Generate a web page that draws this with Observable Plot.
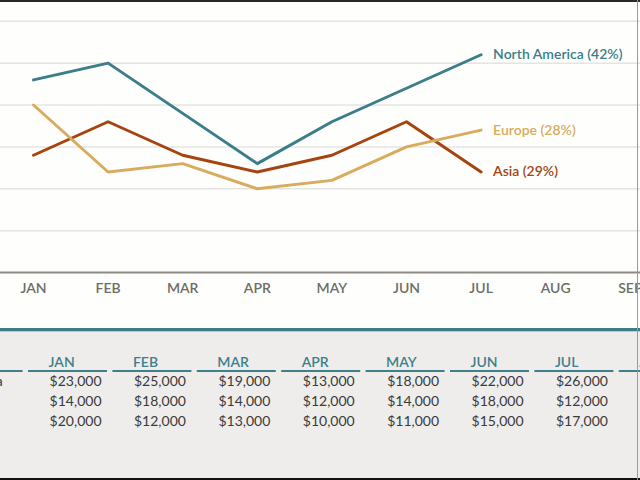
<!DOCTYPE html>
<html>
<head>
<meta charset="utf-8">
<script src="https://cdn.jsdelivr.net/npm/d3@7"></script>
<script src="https://cdn.jsdelivr.net/npm/@observablehq/plot@0.6"></script>
<style>
  html, body { margin: 0; padding: 0; background: #ffffff; }
  #frame { position: relative; width: 640px; height: 480px; overflow: hidden; background: #fefefd; font-family: Lato, sans-serif; }
  #chart { position: absolute; left: 0; top: 0; }
  #table { position: absolute; left: 0; top: 328px; width: 640px; height: 152px; background: #eeedec; border-top: 3px solid #3e7c86; box-shadow: inset 0 1px 0 #a8d0d8; box-sizing: border-box; }
  #topline { position: absolute; left: 0; top: 0; width: 640px; height: 2px; background: #2a2a2a; }
  #bottomline { position: absolute; left: 0; top: 478px; width: 640px; height: 2px; background: #111; }
  #rightline { position: absolute; left: 637px; top: 0; width: 1px; height: 480px; background: #9a9a9a; }
</style>
</head>
<body>
<div id="frame">
  <div id="chart"></div>
  <div id="table"></div>
  <div id="topline"></div>
  <div id="bottomline"></div>
  <div id="rightline"></div>
</div>
<script>
// ---- data ----
const months = ["JAN", "FEB", "MAR", "APR", "MAY", "JUN", "JUL", "AUG", "SEP"];
const regions = ["North America", "Asia", "Europe"];
const shares = ["42%", "29%", "28%"];
const northAmerica = [23000, 25000, 19000, 13000, 18000, 22000, 26000];
const asia = [14000, 18000, 14000, 12000, 14000, 18000, 12000];
const europe = [20000, 12000, 13000, 10000, 11000, 15000, 17000];
const colors = ["#3b7d88", "#a5440f", "#d9ab5d"];
const tableColumns = ["JAN", "FEB", "MAR", "APR", "MAY", "JUN", "JUL", "AUG"];

const series = [northAmerica, asia, europe];
const rows = [];
series.forEach((vals, k) => vals.forEach((v, i) => rows.push({region: regions[k], share: shares[k], i, value: v})));
const lastRows = series.map((vals, k) => ({region: regions[k], share: shares[k], i: vals.length - 1, value: vals[vals.length - 1]}));

const font = "Lato, sans-serif";

const chart = Plot.plot({
  width: 640, height: 328,
  marginTop: 10, marginBottom: 56, marginLeft: 0, marginRight: 0,
  style: {fontFamily: font, background: "transparent"},
  x: {type: "linear", domain: [-33 / 74.6, 607 / 74.6], axis: null},
  y: {domain: [0, 262 / 8.375 * 1000], axis: null},
  color: {domain: regions, range: colors},
  marks: [
    Plot.ruleY(d3.range(5000, 30001, 5000), {stroke: "#e4e4e2", strokeWidth: 1.5}),
    Plot.ruleY([0], {stroke: "#8b8b83", strokeWidth: 2}),
    Plot.axisX({ticks: d3.range(months.length), tickFormat: i => months[i], tickSize: 0, tickPadding: 11, fontSize: 14, fontWeight: 600, fill: "#6d6d66", anchor: "bottom", label: null}),
    Plot.line(rows, {x: "i", y: "value", z: "region", stroke: "region", strokeWidth: 3}),
    Plot.text(lastRows, {x: "i", y: "value", text: d => `${d.region} (${d.share})`, fill: "region", dx: 12, textAnchor: "start", fontSize: 14, fontWeight: 600})
  ]
});
document.getElementById("chart").appendChild(chart);

// ---- table ----
const fmt = d3.format("$,");
const cells = [];
series.forEach((vals, k) => vals.forEach((v, i) => cells.push({row: k, col: i, text: fmt(v)})));
const teal = "#3e7f8b";
const table = Plot.plot({
  width: 640, height: 149,
  marginTop: 0, marginBottom: 0, marginLeft: 0, marginRight: 0,
  style: {fontFamily: font, background: "transparent"},
  x: {type: "linear", domain: [-28 / 84.4, 612 / 84.4], range: [0, 640], axis: null},
  y: {type: "linear", domain: [-2.513 - 0.05, 5.077 - 0.05], range: [0, 149], axis: null},
  marks: [
    Plot.ruleY(d3.range(-1, tableColumns.length), {y: -0.55, x1: c => c, x2: c => c + 0.936, stroke: teal, strokeWidth: 2}),
    Plot.text(tableColumns, {x: (d, i) => i + 0.237, y: -1, text: d => d, textAnchor: "start", fill: teal, fontSize: 14, fontWeight: 600}),
    Plot.text(cells, {x: d => d.col + 0.865, y: "row", text: "text", textAnchor: "end", fill: "#3a3a3a", fontSize: 14}),
    Plot.text(regions, {x: -1.37, y: (d, k) => k, text: d => d, textAnchor: "start", fill: "#3a3a3a", fontSize: 14})
  ]
});
document.getElementById("table").appendChild(table);
</script>
</body>
</html>
